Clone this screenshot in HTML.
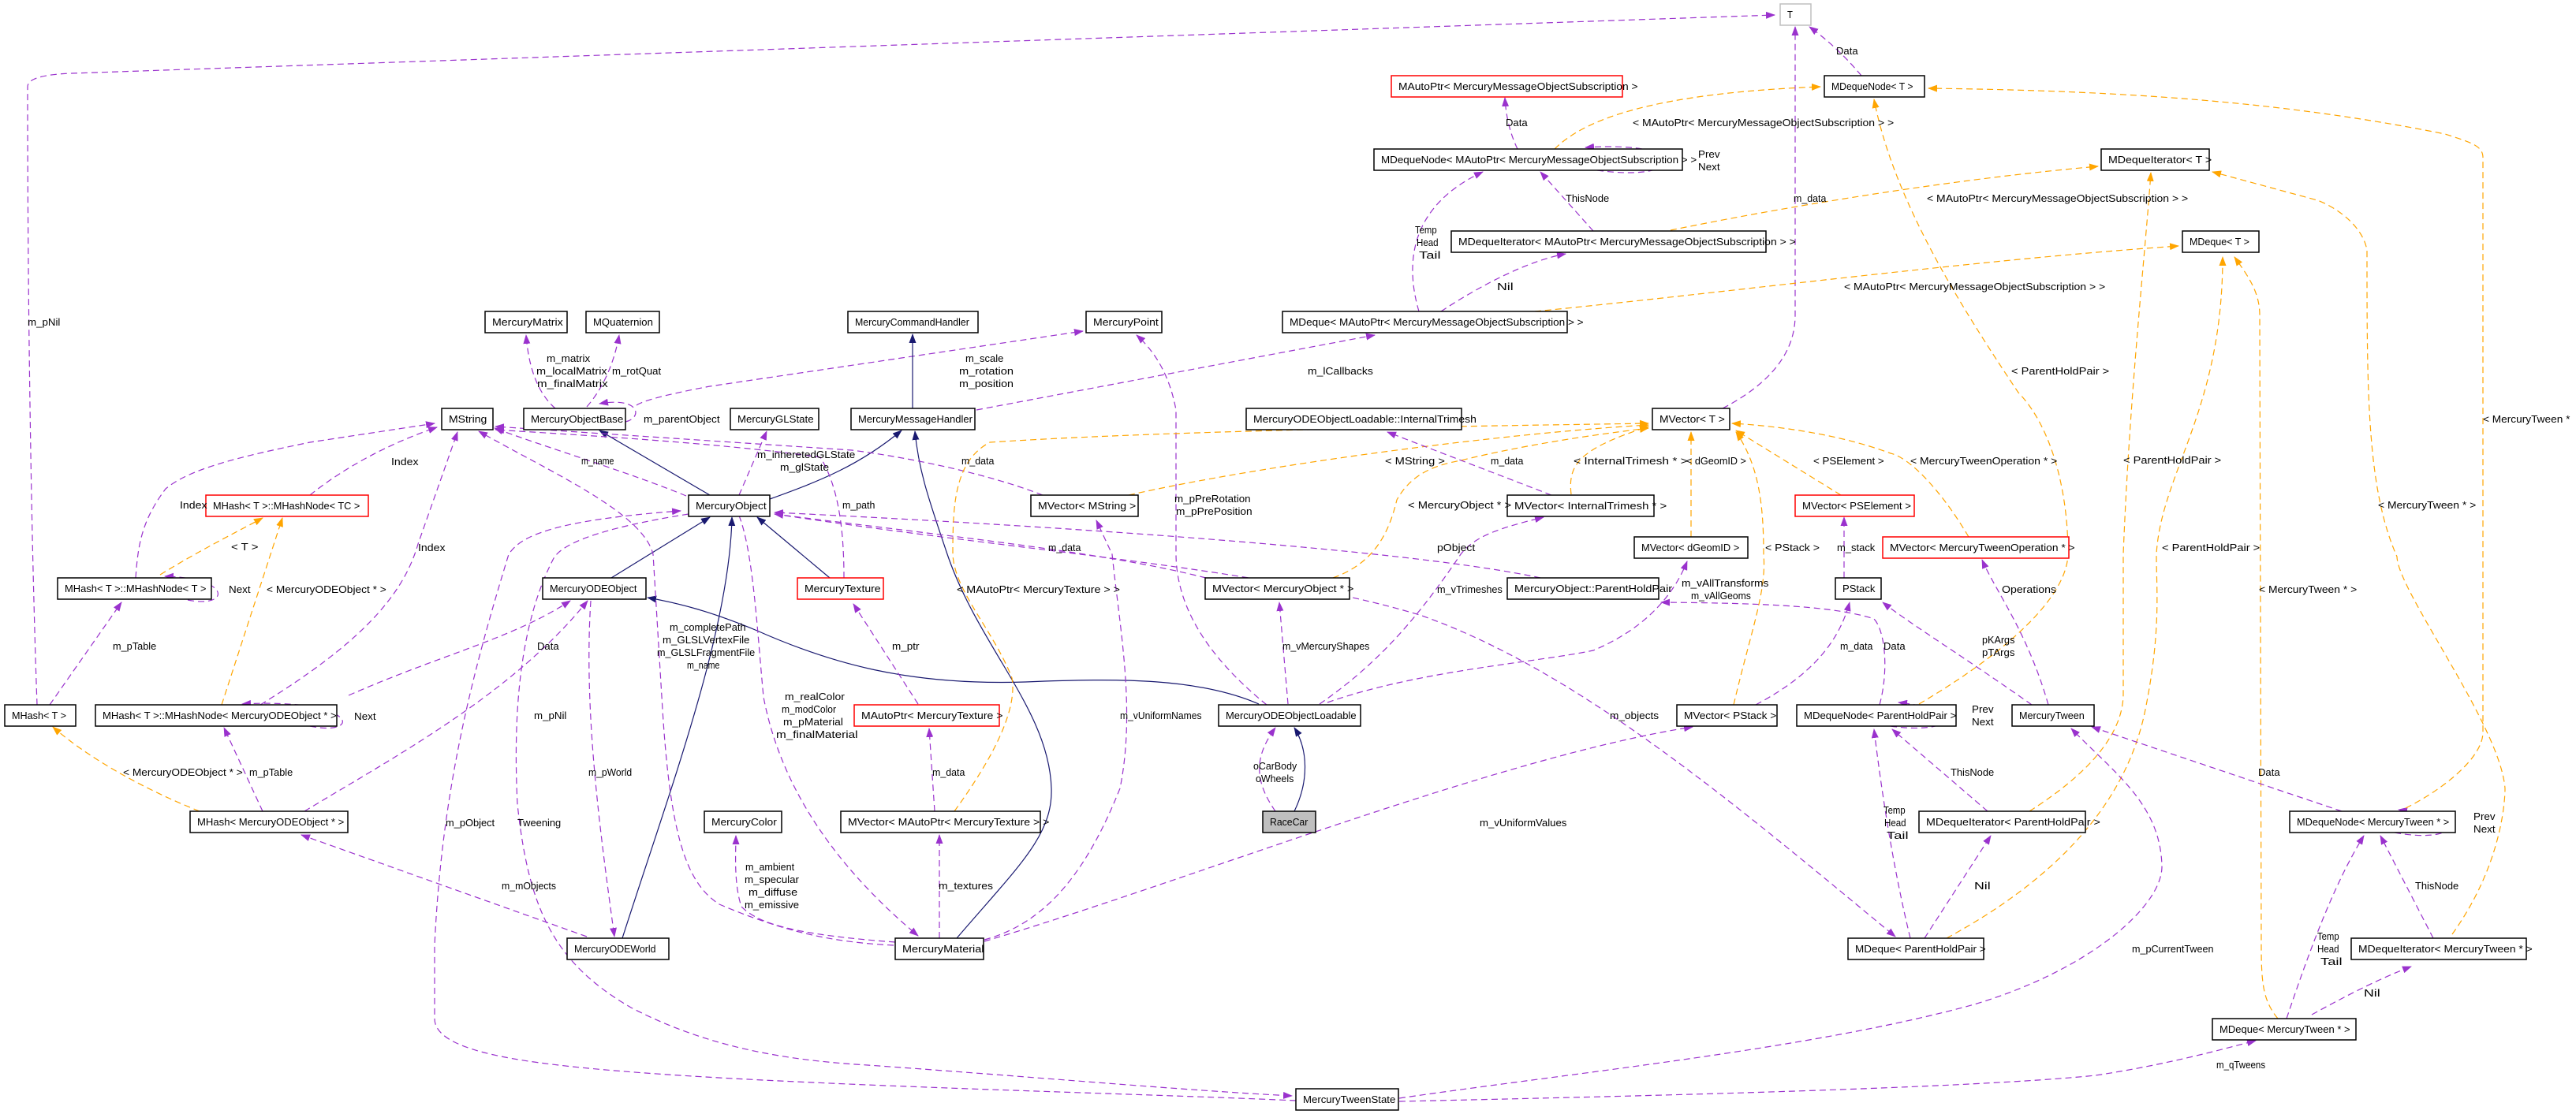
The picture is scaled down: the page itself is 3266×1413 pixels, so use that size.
<!DOCTYPE html>
<html><head><meta charset="utf-8"><style>
html,body{margin:0;padding:0;background:#fff;}
svg{display:block;}
text{font-family:"Liberation Sans Narrow","Liberation Sans",sans-serif;font-size:13px;fill:#000;}
.p{fill:none;stroke:#9a32cd;stroke-width:1.2;stroke-dasharray:8,5;marker-end:url(#ap);}
.o{fill:none;stroke:#ffa500;stroke-width:1.2;stroke-dasharray:8,5;marker-end:url(#ao);}
.n{fill:none;stroke:#191970;stroke-width:1.2;marker-end:url(#an);}
.b{fill:#fff;stroke:#000;stroke-width:1.5;}
.r{fill:#fff;stroke:#ff0000;stroke-width:1.5;}
</style></head><body>
<svg id="s" width="3266" height="1413" viewBox="0 0 3266 1413" xmlns="http://www.w3.org/2000/svg">
<defs>
<marker id="ap" markerWidth="12" markerHeight="9" refX="11" refY="4.5" orient="auto" markerUnits="userSpaceOnUse"><path d="M0,0 L12,4.5 L0,9 z" fill="#9a32cd"/></marker>
<marker id="ao" markerWidth="12" markerHeight="9" refX="11" refY="4.5" orient="auto" markerUnits="userSpaceOnUse"><path d="M0,0 L12,4.5 L0,9 z" fill="#ffa500"/></marker>
<marker id="an" markerWidth="12" markerHeight="9" refX="11" refY="4.5" orient="auto" markerUnits="userSpaceOnUse"><path d="M0,0 L12,4.5 L0,9 z" fill="#191970"/></marker>
</defs>
<g id="edges">
<path class="p" d="M47,894 C40,700 35,400 35,110 Q35,95 91,93 L2250,19"/>
<path class="p" d="M2360,96 Q2330,60 2294,34"/>
<path class="p" d="M2184,518 Q2276,470 2276,400 L2276,34"/>
<path class="p" d="M1924,189 Q1910,160 1908,124"/>
<path class="p" d="M2025,216 C2140,232 2150,178 2010,187"/>
<path class="o" d="M1971,189 C2010,150 2100,118 2308,110"/>
<path class="p" d="M2020,293 L1953,218"/>
<path class="p" d="M1799,395 C1780,330 1790,260 1880,218"/>
<path class="p" d="M1827,395 C1880,360 1940,330 1985,322"/>
<path class="o" d="M2118,292 C2300,255 2500,225 2660,211"/>
<path class="o" d="M1946,395 C2200,370 2500,330 2762,312"/>
<path class="p" d="M1238,520 L1743,425"/>
<path class="p" d="M807,514 Q820,505 900,490 L1373,420"/>
<path class="p" d="M704,518 Q672,490 667,425"/>
<path class="p" d="M744,516 Q775,480 785,425"/>
<path class="p" d="M793,535 C815,530 812,503 760,512"/>
<path class="p" d="M1606,894 Q1490,800 1491,700 L1491,520 Q1480,460 1441,425"/>
<path class="n" d="M1157,518 L1157,424"/>
<path class="n" d="M976,633 C1040,610 1090,590 1143,546"/>
<path class="n" d="M900,628 L760,546"/>
<path class="n" d="M1213,1190 C1290,1100 1335,1060 1333,1000 C1330,900 1240,820 1200,700 C1180,640 1165,600 1160,547"/>
<path class="n" d="M1596,893 C1520,860 1420,860 1300,865 C1150,870 1050,840 960,800 C900,775 860,765 821,758"/>
<path class="n" d="M1641,1029 C1660,990 1658,950 1641,923"/>
<path class="p" d="M1617,1029 C1590,990 1590,960 1617,923"/>
<path class="n" d="M789,1190 C850,1000 925,800 928,656"/>
<path class="n" d="M775,733 L900,656"/>
<path class="n" d="M1052,733 L960,656"/>
<path class="o" d="M203,729 C250,700 290,680 333,657"/>
<path class="o" d="M281,894 L358,657"/>
<path class="p" d="M393,628 C440,590 500,560 554,542"/>
<path class="p" d="M172,733 C175,690 180,660 210,620 C240,595 300,580 393,561 L551,537"/>
<path class="p" d="M330,894 C450,820 510,760 530,690 L580,548"/>
<path class="p" d="M238,761 C292,772 295,733 209,731"/>
<path class="p" d="M393,921 C460,935 455,885 307,893"/>
<path class="p" d="M63,894 L154,764"/>
<path class="o" d="M253,1029 C180,1000 110,960 67,922"/>
<path class="p" d="M333,1029 L284,923"/>
<path class="p" d="M386,1029 C500,960 650,880 745,762"/>
<path class="p" d="M442,882 C560,830 650,810 723,762"/>
<path class="p" d="M744,1188 L382,1059"/>
<path class="p" d="M749,762 C740,900 760,1050 779,1188"/>
<path class="p" d="M1643,1396 C1400,1385 900,1375 700,1350 C600,1338 551,1320 551,1292 L551,1200 C560,1000 600,850 645,703 C660,680 700,660 863,648"/>
<path class="p" d="M873,652 C760,670 710,690 701,710 C660,790 650,900 656,1020 C670,1150 700,1220 800,1278 C900,1330 1000,1345 1100,1351 C1300,1365 1500,1383 1638,1390"/>
<path class="p" d="M870,629 C800,600 700,570 627,543"/>
<path class="p" d="M1133,1199 C1050,1195 990,1180 912,1147 C870,1120 850,1060 840,900 L828,703 C815,650 700,600 607,547"/>
<path class="p" d="M937,654 C955,700 960,800 968,884 C990,1000 1060,1100 1164,1187"/>
<path class="p" d="M1135,1195 C1000,1185 960,1170 940,1150 C930,1120 933,1080 933,1060"/>
<path class="p" d="M937,628 L972,547"/>
<path class="p" d="M1070,733 C1070,680 1065,620 1040,580 C900,560 700,550 628,545"/>
<path class="p" d="M1322,628 C1250,600 1150,580 1080,571 L628,541"/>
<path class="p" d="M1529,733 C1400,700 1200,680 982,652"/>
<path class="p" d="M1953,733 C1800,700 1400,670 982,650"/>
<path class="p" d="M1248,1192 C1330,1170 1380,1100 1420,1000 C1440,900 1420,800 1410,703 L1390,660"/>
<path class="p" d="M1191,1190 L1191,1059"/>
<path class="p" d="M1185,1029 L1178,924"/>
<path class="p" d="M1164,893 L1082,766"/>
<path class="o" d="M1210,1029 C1260,960 1290,900 1283,860 C1260,800 1210,750 1208,703 C1208,640 1210,585 1255,561 C1500,545 1900,540 2090,537"/>
<path class="o" d="M1431,628 C1600,590 1900,550 2090,539"/>
<path class="o" d="M1690,733 C1740,715 1760,680 1771,634 C1790,600 1820,590 1852,584 C1950,560 2050,548 2090,543"/>
<path class="o" d="M1992,627 C1988,590 2000,570 2090,541"/>
<path class="p" d="M1967,628 L1759,548"/>
<path class="p" d="M1673,893 C1750,840 1800,780 1852,703 C1870,680 1900,670 1957,656"/>
<path class="p" d="M1633,893 L1622,764"/>
<path class="p" d="M1683,891 C1800,850 1950,840 2020,825 C2080,800 2120,760 2139,712"/>
<path class="p" d="M2383,894 C2395,850 2390,800 2376,785 C2330,770 2250,765 2106,764"/>
<path class="o" d="M2144,681 L2144,548"/>
<path class="o" d="M2198,894 C2220,800 2240,750 2236,703 C2236,640 2230,590 2201,548"/>
<path class="o" d="M2334,628 L2201,546"/>
<path class="o" d="M2496,681 C2460,620 2420,580 2397,575 C2330,550 2250,540 2196,537"/>
<path class="p" d="M2338,733 L2338,656"/>
<path class="p" d="M2226,894 C2290,860 2330,820 2345,764"/>
<path class="p" d="M2576,894 C2500,840 2420,790 2387,764"/>
<path class="p" d="M2597,894 C2570,800 2530,750 2513,710"/>
<path class="o" d="M2433,893 C2540,830 2620,760 2622,703 C2622,620 2600,540 2559,498 C2480,380 2400,250 2376,126"/>
<path class="p" d="M2397,921 C2470,932 2510,903 2407,891"/>
<path class="p" d="M2520,1029 L2399,925"/>
<path class="o" d="M2573,1029 C2650,980 2692,930 2692,880 L2692,703 C2700,500 2720,320 2727,219"/>
<path class="p" d="M2422,1190 C2400,1100 2385,1000 2376,925"/>
<path class="p" d="M2440,1190 L2524,1060"/>
<path class="o" d="M2468,1190 C2560,1140 2690,1050 2720,900 C2740,800 2734,750 2734,703 C2740,600 2818,520 2818,326"/>
<path class="o" d="M2888,1292 C2870,1270 2867,1250 2867,1200 L2865,400 C2865,370 2850,350 2833,326"/>
<path class="p" d="M982,652 C1300,700 1600,720 1800,780 C2000,850 2200,1020 2403,1188"/>
<path class="p" d="M1248,1194 C1500,1120 1900,960 2146,922"/>
<path class="p" d="M2969,1029 L2652,922"/>
<path class="p" d="M1774,1393 C2000,1360 2300,1330 2503,1274 C2650,1230 2740,1150 2741,1100 C2740,1020 2680,980 2626,924"/>
<path class="p" d="M1774,1397 C2100,1390 2500,1380 2657,1364 C2750,1350 2820,1330 2860,1320"/>
<path class="p" d="M3036,1056 C3110,1070 3140,1040 3041,1027"/>
<path class="p" d="M3085,1190 L3018,1060"/>
<path class="p" d="M2899,1292 C2930,1200 2960,1120 2997,1060"/>
<path class="p" d="M2931,1287 C2980,1260 3020,1240 3057,1226"/>
<path class="o" d="M3050,1025 C3100,1000 3148,960 3148,929 L3148,200 C3148,185 3134,181 3100,170 C2900,130 2700,115 2445,112"/>
<path class="o" d="M3109,1185 C3170,1100 3176,1020 3176,1000 C3170,920 3040,750 3039,706 C3001,620 3001,500 3001,317 C2995,285 2960,262 2938,254 L2805,218"/>
</g>
<g id="boxes">
<rect x="2257" y="5" width="39" height="27" fill="#fff" stroke="#bfbfbf" stroke-width="1.5"/><text x="2266" y="23" class="t">T</text>
<rect class="b" x="2313" y="96" width="127" height="27"/><text x="2322" y="114" class="t">MDequeNode&lt; T &gt;</text>
<rect class="r" x="1764" y="96" width="293" height="27"/><text x="1773" y="114" class="t">MAutoPtr&lt; MercuryMessageObjectSubscription &gt;</text>
<rect class="b" x="1742" y="189" width="391" height="27"/><text x="1751" y="207" class="t">MDequeNode&lt; MAutoPtr&lt; MercuryMessageObjectSubscription &gt; &gt;</text>
<rect class="b" x="2664" y="189" width="137" height="27"/><text x="2673" y="207" class="t">MDequeIterator&lt; T &gt;</text>
<rect class="b" x="1840" y="293" width="399" height="27"/><text x="1849" y="311" class="t">MDequeIterator&lt; MAutoPtr&lt; MercuryMessageObjectSubscription &gt; &gt;</text>
<rect class="b" x="2767" y="293" width="97" height="27"/><text x="2776" y="311" class="t">MDeque&lt; T &gt;</text>
<rect class="b" x="615" y="395" width="104" height="27"/><text x="624" y="413" class="t">MercuryMatrix</text>
<rect class="b" x="743" y="395" width="93" height="27"/><text x="752" y="413" class="t">MQuaternion</text>
<rect class="b" x="1075" y="395" width="165" height="27"/><text x="1084" y="413" class="t">MercuryCommandHandler</text>
<rect class="b" x="1377" y="395" width="96" height="27"/><text x="1386" y="413" class="t">MercuryPoint</text>
<rect class="b" x="1626" y="395" width="361" height="27"/><text x="1635" y="413" class="t">MDeque&lt; MAutoPtr&lt; MercuryMessageObjectSubscription &gt; &gt;</text>
<rect class="b" x="560" y="518" width="65" height="27"/><text x="569" y="536" class="t">MString</text>
<rect class="b" x="664" y="518" width="129" height="27"/><text x="673" y="536" class="t">MercuryObjectBase</text>
<rect class="b" x="926" y="518" width="112" height="27"/><text x="935" y="536" class="t">MercuryGLState</text>
<rect class="b" x="1079" y="518" width="157" height="27"/><text x="1088" y="536" class="t">MercuryMessageHandler</text>
<rect class="b" x="1580" y="518" width="273" height="27"/><text x="1589" y="536" class="t">MercuryODEObjectLoadable::InternalTrimesh</text>
<rect class="b" x="2095" y="518" width="98" height="27"/><text x="2104" y="536" class="t">MVector&lt; T &gt;</text>
<rect class="r" x="261" y="628" width="206" height="27"/><text x="270" y="646" class="t">MHash&lt; T &gt;::MHashNode&lt; TC &gt;</text>
<rect class="b" x="873" y="628" width="103" height="27"/><text x="882" y="646" class="t">MercuryObject</text>
<rect class="b" x="1307" y="628" width="136" height="27"/><text x="1316" y="646" class="t">MVector&lt; MString &gt;</text>
<rect class="b" x="1911" y="628" width="186" height="27"/><text x="1920" y="646" class="t">MVector&lt; InternalTrimesh * &gt;</text>
<rect class="r" x="2276" y="628" width="151" height="27"/><text x="2285" y="646" class="t">MVector&lt; PSElement &gt;</text>
<rect class="b" x="2072" y="681" width="144" height="27"/><text x="2081" y="699" class="t">MVector&lt; dGeomID &gt;</text>
<rect class="r" x="2387" y="681" width="236" height="27"/><text x="2396" y="699" class="t">MVector&lt; MercuryTweenOperation * &gt;</text>
<rect class="b" x="73" y="733" width="195" height="27"/><text x="82" y="751" class="t">MHash&lt; T &gt;::MHashNode&lt; T &gt;</text>
<rect class="b" x="688" y="733" width="131" height="27"/><text x="697" y="751" class="t">MercuryODEObject</text>
<rect class="r" x="1011" y="733" width="109" height="27"/><text x="1020" y="751" class="t">MercuryTexture</text>
<rect class="b" x="1528" y="733" width="183" height="27"/><text x="1537" y="751" class="t">MVector&lt; MercuryObject * &gt;</text>
<rect class="b" x="1911" y="733" width="192" height="27"/><text x="1920" y="751" class="t">MercuryObject::ParentHoldPair</text>
<rect class="b" x="2327" y="733" width="58" height="27"/><text x="2336" y="751" class="t">PStack</text>
<rect class="b" x="6" y="894" width="90" height="27"/><text x="15" y="912" class="t">MHash&lt; T &gt;</text>
<rect class="b" x="121" y="894" width="306" height="27"/><text x="130" y="912" class="t">MHash&lt; T &gt;::MHashNode&lt; MercuryODEObject * &gt;</text>
<rect class="r" x="1083" y="894" width="184" height="27"/><text x="1092" y="912" class="t">MAutoPtr&lt; MercuryTexture &gt;</text>
<rect class="b" x="1545" y="894" width="180" height="27"/><text x="1554" y="912" class="t">MercuryODEObjectLoadable</text>
<rect class="b" x="2126" y="894" width="127" height="27"/><text x="2135" y="912" class="t">MVector&lt; PStack &gt;</text>
<rect class="b" x="2278" y="894" width="202" height="27"/><text x="2287" y="912" class="t">MDequeNode&lt; ParentHoldPair &gt;</text>
<rect class="b" x="2551" y="894" width="104" height="27"/><text x="2560" y="912" class="t">MercuryTween</text>
<rect class="b" x="241" y="1029" width="200" height="27"/><text x="250" y="1047" class="t">MHash&lt; MercuryODEObject * &gt;</text>
<rect class="b" x="893" y="1029" width="98" height="27"/><text x="902" y="1047" class="t">MercuryColor</text>
<rect class="b" x="1066" y="1029" width="253" height="27"/><text x="1075" y="1047" class="t">MVector&lt; MAutoPtr&lt; MercuryTexture &gt; &gt;</text>
<rect x="1601" y="1029" width="67" height="27" fill="#bfbfbf" stroke="#000" stroke-width="1.5"/><text x="1610" y="1047" class="t">RaceCar</text>
<rect class="b" x="2433" y="1029" width="211" height="27"/><text x="2442" y="1047" class="t">MDequeIterator&lt; ParentHoldPair &gt;</text>
<rect class="b" x="2903" y="1029" width="210" height="27"/><text x="2912" y="1047" class="t">MDequeNode&lt; MercuryTween * &gt;</text>
<rect class="b" x="719" y="1190" width="129" height="27"/><text x="728" y="1208" class="t">MercuryODEWorld</text>
<rect class="b" x="1135" y="1190" width="112" height="27"/><text x="1144" y="1208" class="t">MercuryMaterial</text>
<rect class="b" x="2343" y="1190" width="172" height="27"/><text x="2352" y="1208" class="t">MDeque&lt; ParentHoldPair &gt;</text>
<rect class="b" x="2981" y="1190" width="222" height="27"/><text x="2990" y="1208" class="t">MDequeIterator&lt; MercuryTween * &gt;</text>
<rect class="b" x="2805" y="1292" width="182" height="27"/><text x="2814" y="1310" class="t">MDeque&lt; MercuryTween * &gt;</text>
<rect class="b" x="1643" y="1381" width="130" height="27"/><text x="1652" y="1399" class="t">MercuryTweenState</text>
</g>
<g id="labels">
<text x="35" y="413">m_pNil</text>
<text x="2328" y="69">Data</text>
<text x="2274" y="256">m_data</text>
<text x="1909" y="160">Data</text>
<text x="2153" y="200">Prev</text><text x="2153" y="216">Next</text>
<text x="2070" y="160">&lt; MAutoPtr&lt; MercuryMessageObjectSubscription &gt; &gt;</text>
<text x="1985" y="256">ThisNode</text>
<text x="1794" y="296">Temp</text><text x="1796" y="312">Head</text><text x="1799" y="328">Tail</text>
<text x="1898" y="368">Nil</text>
<text x="2443" y="256">&lt; MAutoPtr&lt; MercuryMessageObjectSubscription &gt; &gt;</text>
<text x="2338" y="368">&lt; MAutoPtr&lt; MercuryMessageObjectSubscription &gt; &gt;</text>
<text x="1658" y="475">m_lCallbacks</text>
<text x="1224" y="459">m_scale</text><text x="1216" y="475">m_rotation</text><text x="1216" y="491">m_position</text>
<text x="693" y="459">m_matrix</text><text x="680" y="475">m_localMatrix</text><text x="681" y="491">m_finalMatrix</text>
<text x="776" y="475">m_rotQuat</text>
<text x="816" y="536">m_parentObject</text>
<text x="1489" y="637">m_pPreRotation</text><text x="1491" y="653">m_pPrePosition</text>
<text x="293" y="698">&lt; T &gt;</text>
<text x="338" y="752">&lt; MercuryODEObject * &gt;</text>
<text x="496" y="590">Index</text>
<text x="228" y="645">Index</text>
<text x="530" y="699">Index</text>
<text x="290" y="752">Next</text>
<text x="449" y="913">Next</text>
<text x="143" y="824">m_pTable</text>
<text x="156" y="984">&lt; MercuryODEObject * &gt;</text>
<text x="316" y="984">m_pTable</text>
<text x="677" y="912">m_pNil</text>
<text x="681" y="824">Data</text>
<text x="636" y="1128">m_mObjects</text>
<text x="746" y="984">m_pWorld</text>
<text x="565" y="1048">m_pObject</text>
<text x="656" y="1048">Tweening</text>
<text x="737" y="589">m_name</text>
<text x="849" y="800">m_completePath</text><text x="840" y="816">m_GLSLVertexFile</text><text x="833" y="832">m_GLSLFragmentFile</text><text x="871" y="848">m_name</text>
<text x="995" y="888">m_realColor</text><text x="991" y="904">m_modColor</text><text x="993" y="920">m_pMaterial</text><text x="984" y="936">m_finalMaterial</text>
<text x="945" y="1104">m_ambient</text><text x="944" y="1120">m_specular</text><text x="949" y="1136">m_diffuse</text><text x="944" y="1152">m_emissive</text>
<text x="960" y="581">m_inheretedGLState</text><text x="989" y="597">m_glState</text>
<text x="1068" y="645">m_path</text>
<text x="1219" y="589">m_data</text>
<text x="1329" y="699">m_data</text>
<text x="1822" y="699">pObject</text>
<text x="1420" y="912">m_vUniformNames</text>
<text x="1190" y="1128">m_textures</text>
<text x="1182" y="984">m_data</text>
<text x="1131" y="824">m_ptr</text>
<text x="1213" y="752">&lt; MAutoPtr&lt; MercuryTexture &gt; &gt;</text>
<text x="1756" y="589">&lt; MString &gt;</text>
<text x="1785" y="645">&lt; MercuryObject * &gt;</text>
<text x="1995" y="589">&lt; InternalTrimesh * &gt;</text>
<text x="1890" y="589">m_data</text>
<text x="1822" y="752">m_vTrimeshes</text>
<text x="1626" y="824">m_vMercuryShapes</text>
<text x="2132" y="744">m_vAllTransforms</text><text x="2144" y="760">m_vAllGeoms</text>
<text x="2388" y="824">Data</text>
<text x="2138" y="589">&lt; dGeomID &gt;</text>
<text x="2238" y="699">&lt; PStack &gt;</text>
<text x="2299" y="589">&lt; PSElement &gt;</text>
<text x="2422" y="589">&lt; MercuryTweenOperation * &gt;</text>
<text x="2329" y="699">m_stack</text>
<text x="2333" y="824">m_data</text>
<text x="2513" y="816">pKArgs</text><text x="2513" y="832">pTArgs</text>
<text x="2538" y="752">Operations</text>
<text x="2550" y="475">&lt; ParentHoldPair &gt;</text>
<text x="2500" y="904">Prev</text><text x="2500" y="920">Next</text>
<text x="2473" y="984">ThisNode</text>
<text x="2692" y="588">&lt; ParentHoldPair &gt;</text>
<text x="2388" y="1032">Temp</text><text x="2389" y="1048">Head</text><text x="2392" y="1064">Tail</text>
<text x="2503" y="1128">Nil</text>
<text x="2741" y="699">&lt; ParentHoldPair &gt;</text>
<text x="2864" y="752">&lt; MercuryTween * &gt;</text>
<text x="2041" y="912">m_objects</text>
<text x="2863" y="984">Data</text>
<text x="1876" y="1048">m_vUniformValues</text>
<text x="2703" y="1208">m_pCurrentTween</text>
<text x="2810" y="1355">m_qTweens</text>
<text x="3136" y="1040">Prev</text><text x="3136" y="1056">Next</text>
<text x="3062" y="1128">ThisNode</text>
<text x="2938" y="1192">Temp</text><text x="2938" y="1208">Head</text><text x="2942" y="1224">Tail</text>
<text x="2997" y="1264">Nil</text>
<text x="3148" y="536">&lt; MercuryTween *</text>
<text x="3015" y="645">&lt; MercuryTween * &gt;</text>
<text x="1589" y="976">oCarBody</text><text x="1592" y="992">oWheels</text>
</g>
</svg>
<script>
document.querySelectorAll('svg text').forEach(function(t){
  var n=t.textContent.length;
  t.setAttribute('textLength',(n*6.9).toFixed(1));
  t.setAttribute('lengthAdjust','spacingAndGlyphs');
});
</script>
</body></html>
